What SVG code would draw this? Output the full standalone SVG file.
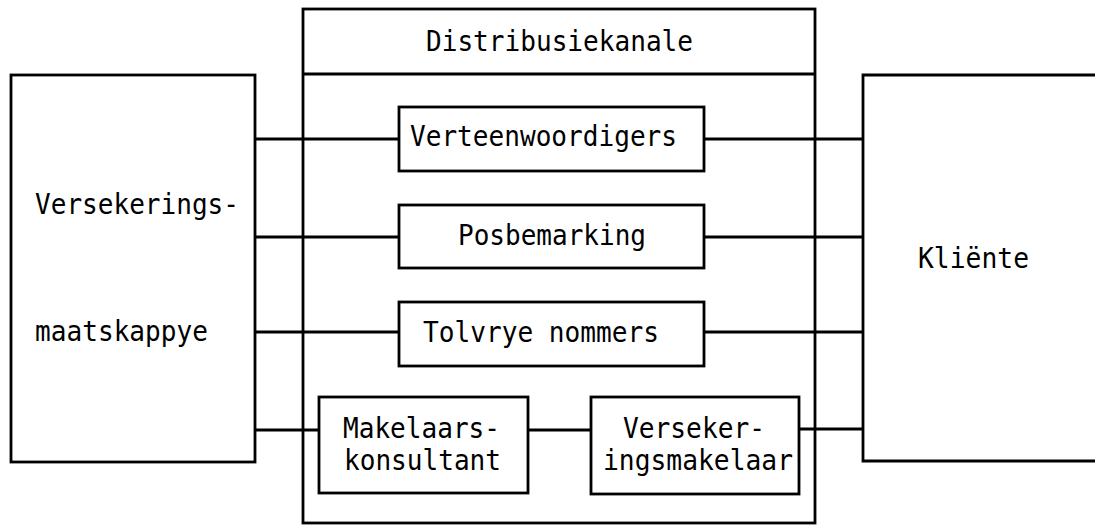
<svg xmlns="http://www.w3.org/2000/svg" width="1095" height="525" viewBox="0 0 1095 525">
  <style>
    .box { fill: none; stroke: #000; stroke-width: 2.8; }
    .link { fill: none; stroke: #000; stroke-width: 2.8; }
    .lbl { font-family: "DejaVu Sans Mono", "Liberation Mono", monospace; font-size: 28px; fill: #000; }
  </style>
  <rect width="1095" height="525" fill="#fff"/>

  <!-- connectors -->
  <g id="connectors">
    <line class="link" x1="255" y1="139" x2="399" y2="139"/>
    <line class="link" x1="255" y1="237" x2="399" y2="237"/>
    <line class="link" x1="255" y1="332" x2="399" y2="332"/>
    <line class="link" x1="255" y1="430" x2="319" y2="430"/>
    <line class="link" x1="704" y1="139" x2="863" y2="139"/>
    <line class="link" x1="704" y1="237" x2="863" y2="237"/>
    <line class="link" x1="704" y1="332" x2="863" y2="332"/>
    <line class="link" x1="528" y1="430" x2="591" y2="430"/>
    <line class="link" x1="799" y1="429" x2="863" y2="429"/>
  </g>

  <!-- insurers -->
  <g id="versekeringsmaatskappye">
    <rect class="box" x="11" y="75" width="244" height="387"/>
    <text class="lbl" x="35" y="214" textLength="204" lengthAdjust="spacingAndGlyphs">Versekerings-</text>
    <text class="lbl" x="35" y="341" textLength="173" lengthAdjust="spacingAndGlyphs">maatskappye</text>
  </g>

  <!-- distribution channels container -->
  <g id="distribusiekanale">
    <rect class="box" x="303" y="9" width="512" height="514"/>
    <line class="box" x1="303" y1="74" x2="815" y2="74"/>
    <text class="lbl" x="426" y="51" textLength="267" lengthAdjust="spacingAndGlyphs">Distribusiekanale</text>
  </g>

  <g id="verteenwoordigers">
    <rect class="box" x="399" y="107" width="305" height="64"/>
    <text class="lbl" x="410" y="146" textLength="267" lengthAdjust="spacingAndGlyphs">Verteenwoordigers</text>
  </g>

  <g id="posbemarking">
    <rect class="box" x="399" y="205" width="305" height="63"/>
    <text class="lbl" x="458" y="245" textLength="188" lengthAdjust="spacingAndGlyphs">Posbemarking</text>
  </g>

  <g id="tolvrye-nommers">
    <rect class="box" x="399" y="302" width="305" height="64"/>
    <text class="lbl" x="423" y="342" textLength="236" lengthAdjust="spacingAndGlyphs">Tolvrye nommers</text>
  </g>

  <g id="makelaarskonsultant">
    <rect class="box" x="319" y="397" width="209" height="96"/>
    <text class="lbl" x="343" y="438" textLength="157" lengthAdjust="spacingAndGlyphs">Makelaars-</text>
    <text class="lbl" x="344" y="470" textLength="157" lengthAdjust="spacingAndGlyphs">konsultant</text>
  </g>

  <g id="versekeringsmakelaar">
    <rect class="box" x="591" y="397" width="208" height="97"/>
    <text class="lbl" x="623" y="438" textLength="142" lengthAdjust="spacingAndGlyphs">Verseker-</text>
    <text class="lbl" x="603" y="470" textLength="190" lengthAdjust="spacingAndGlyphs">ingsmakelaar</text>
  </g>

  <!-- clients (box runs past the right edge) -->
  <g id="kliente">
    <path class="box" d="M1097 75 H863 V461 H1097"/>
    <text class="lbl" x="918" y="268" textLength="111" lengthAdjust="spacingAndGlyphs">Kliënte</text>
  </g>
</svg>
